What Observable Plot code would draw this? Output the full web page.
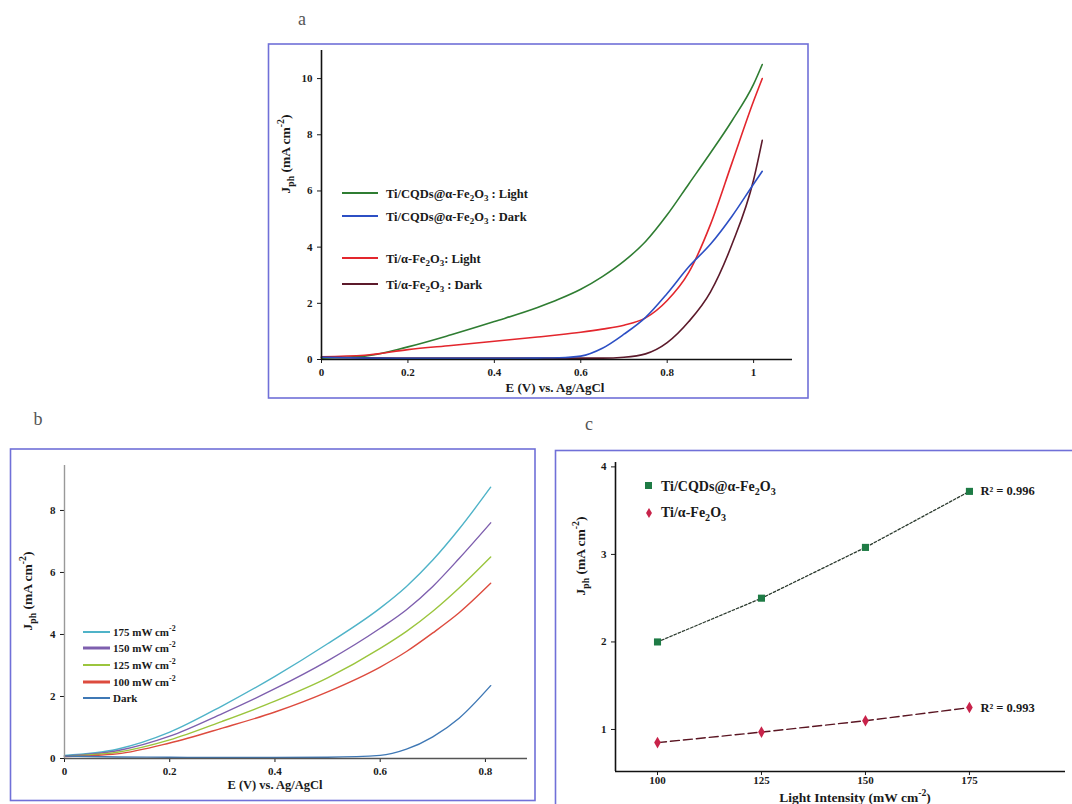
<!DOCTYPE html>
<html><head><meta charset="utf-8">
<script src="https://cdn.jsdelivr.net/npm/d3@7"></script>
<script src="https://cdn.jsdelivr.net/npm/@observablehq/plot@0.6"></script>
<style>
html,body{margin:0;padding:0;background:#fff;width:1072px;height:804px;overflow:hidden;}
#root{position:relative;width:1072px;height:804px;}
#root svg{position:absolute;}
</style></head><body><div id="root"></div>
<script>
// ---------- Panel a data ----------
const eA = [0, 0.1, 0.2, 0.3, 0.4, 0.5, 0.55, 0.6, 0.65, 0.7, 0.75, 0.8, 0.85, 0.9, 0.95, 1.0, 1.02];
const cqdLight = [0.05, 0.12, 0.45, 0.88, 1.35, 1.85, 2.15, 2.5, 2.95, 3.5, 4.2, 5.15, 6.25, 7.35, 8.5, 9.8, 10.5];
const cqdDark  = [0.08, 0.05, 0.04, 0.04, 0.04, 0.05, 0.06, 0.12, 0.4, 0.9, 1.5, 2.35, 3.3, 4.1, 5.1, 6.25, 6.7];
const feLight  = [0.1, 0.15, 0.35, 0.5, 0.65, 0.8, 0.88, 0.97, 1.08, 1.22, 1.48, 2.1, 3.1, 4.8, 7.0, 9.2, 10.0];
const feDark   = [0.08, 0.06, 0.05, 0.05, 0.05, 0.05, 0.05, 0.05, 0.05, 0.08, 0.2, 0.6, 1.35, 2.4, 4.1, 6.4, 7.8];
const seriesA = ["Ti/CQDs@α-Fe_{2}O_{3} : Light", "Ti/CQDs@α-Fe_{2}O_{3} : Dark", "Ti/α-Fe_{2}O_{3}: Light", "Ti/α-Fe_{2}O_{3} : Dark"];
const colorsA = ["#2f7d32", "#2c4fc4", "#e3262d", "#5c1a2b"];
const xTicksA = [0, 0.2, 0.4, 0.6, 0.8, 1];
const yTicksA = [0, 2, 4, 6, 8, 10];
const xDomA = [0, 1.09], yDomA = [0, 11];

// ---------- Panel b data ----------
const eB = [0, 0.1, 0.2, 0.3, 0.4, 0.5, 0.6, 0.65, 0.7, 0.75, 0.81];
const i175 = [0.1, 0.3, 0.85, 1.7, 2.65, 3.7, 4.85, 5.55, 6.4, 7.4, 8.75];
const i150 = [0.08, 0.25, 0.72, 1.45, 2.25, 3.15, 4.2, 4.8, 5.55, 6.45, 7.6];
const i125 = [0.07, 0.2, 0.6, 1.2, 1.85, 2.6, 3.55, 4.1, 4.75, 5.5, 6.5];
const i100 = [0.06, 0.15, 0.5, 0.98, 1.5, 2.15, 2.95, 3.45, 4.05, 4.7, 5.65];
const darkB = [0.08, 0.05, 0.04, 0.03, 0.03, 0.04, 0.1, 0.3, 0.7, 1.3, 2.35];
const seriesB = ["175 mW cm^{-2}", "150 mW cm^{-2}", "125 mW cm^{-2}", "100 mW cm^{-2}", "Dark"];
const colorsB = ["#4fb3c8", "#7e5fae", "#9bc53d", "#dd4b3e", "#3f78b5"];
const xTicksB = [0, 0.2, 0.4, 0.6, 0.8];
const yTicksB = [0, 2, 4, 6, 8];
const xDomB = [0, 0.88], yDomB = [0, 9.45];

// ---------- Panel c data ----------
const intensity = [100, 125, 150, 175];
const jCqd = [2.0, 2.5, 3.08, 3.72];
const jFe  = [0.85, 0.97, 1.1, 1.25];
const seriesC = ["Ti/CQDs@α-Fe_{2}O_{3}", "Ti/α-Fe_{2}O_{3}"];
const r2C = ["R² = 0.996", "R² = 0.993"];
const xTicksC = [100, 125, 150, 175];
const yTicksC = [1, 2, 3, 4];
const xDomC = [89.9, 198.1], yDomC = [0.52, 4.05];

const FONT = '"Liberation Serif", "Times New Roman", serif';
const root = document.getElementById("root");
const fmt = d3.format("~g");

function rich(text, str, size) {
  const re = /([_^])\{([^}]*)\}/g;
  let last = 0, m, off = 0;
  const add = (txt, dy, fs) => {
    const t = text.append("tspan").text(txt);
    if (dy) t.attr("dy", dy);
    if (fs) t.attr("font-size", fs);
  };
  while ((m = re.exec(str))) {
    if (m.index > last) { add(str.slice(last, m.index), off ? -off : null); off = 0; }
    const shift = m[1] === "_" ? size * 0.3 : -size * 0.42;
    add(m[2], shift - off, size * 0.72);
    off = shift;
    last = re.lastIndex;
  }
  if (last < str.length) add(str.slice(last), off ? -off : null);
  return text;
}
function label(svg, x, y, str, size, opts = {}) {
  const t = svg.append("text").attr("x", x).attr("y", y)
    .attr("font-family", FONT).attr("font-size", size).attr("font-weight", opts.weight || "bold")
    .attr("fill", opts.fill || "#1a1a1a").attr("text-anchor", opts.anchor || "start");
  if (opts.rotate) t.attr("transform", `rotate(-90 ${x} ${y})`);
  return rich(t, str, size);
}
function mount(el, left, top) {
  el.style.left = left + "px"; el.style.top = top + "px";
  root.appendChild(el);
  return d3.select(el);
}
const baseStyle = {fontFamily: FONT, fontSize: "11px", fontWeight: "bold", color: "#1a1a1a", background: "transparent", overflow: "visible"};

// ---------- Panel a ----------
const arrA = [cqdLight, feLight, feDark, cqdDark];
const nameIdxA = [0, 2, 3, 1];
const dataA = arrA.flatMap((arr, k) => arr.map((v, i) => ({E: eA[i], J: v, s: seriesA[nameIdxA[k]]})));
const plotA = Plot.plot({
  width: 540, height: 354,
  marginLeft: 53, marginRight: 16, marginTop: 6, marginBottom: 39,
  style: baseStyle,
  x: {domain: xDomA, ticks: xTicksA, tickFormat: fmt, tickSize: 4, label: null},
  y: {domain: yDomA, ticks: yTicksA, tickFormat: fmt, tickSize: 4, label: null},
  color: {domain: seriesA, range: colorsA},
  marks: [
    Plot.line(dataA, {x: "E", y: "J", z: "s", stroke: "s", curve: "monotone-x", strokeWidth: 1.6}),
    Plot.ruleY([yDomA[0]], {stroke: "#111", strokeWidth: 1.6}),
    Plot.ruleX([xDomA[0]], {stroke: "#111", strokeWidth: 1.6})
  ]
});
const sa = mount(plotA, 268, 44);
label(sa, 287, 348, "E (V) vs. Ag/AgCl", 13, {anchor: "middle"});
label(sa, 22, 110, "J_{ph} (mA cm^{-2})", 13.5, {anchor: "middle", rotate: true});
const legYA = [149, 172, 214, 240];
seriesA.forEach((s, i) => {
  sa.append("line").attr("x1", 74).attr("x2", 110).attr("y1", legYA[i]).attr("y2", legYA[i])
    .attr("stroke", colorsA[i]).attr("stroke-width", 2);
  label(sa, 118, legYA[i] + 4.5, s, 12.5);
});

// ---------- Panel b ----------
const arrB = [i175, i150, i125, i100, darkB];
const dataB = arrB.flatMap((arr, k) => arr.map((v, i) => ({E: eB[i], J: v, s: seriesB[k]})));
const plotB = Plot.plot({
  width: 525, height: 352,
  marginLeft: 54, marginRight: 8, marginTop: 16, marginBottom: 43,
  style: baseStyle,
  x: {domain: xDomB, ticks: xTicksB, tickFormat: fmt, tickSize: 4, label: null},
  y: {domain: yDomB, ticks: yTicksB, tickFormat: fmt, tickSize: 4, label: null},
  color: {domain: seriesB, range: colorsB},
  marks: [
    Plot.line(dataB, {x: "E", y: "J", z: "s", stroke: "s", curve: "monotone-x", strokeWidth: 1.4}),
    Plot.ruleY([yDomB[0]], {stroke: "#555", strokeWidth: 1.6}),
    Plot.ruleX([xDomB[0]], {stroke: "#999", strokeWidth: 1.4})
  ]
});
const sb = mount(plotB, 10, 449);
label(sb, 265, 340, "E (V) vs. Ag/AgCl", 12.5, {anchor: "middle"});
label(sb, 22, 142, "J_{ph} (mA cm^{-2})", 13.5, {anchor: "middle", rotate: true});
const legYB = [183, 199, 216, 233, 249];
seriesB.forEach((s, i) => {
  sb.append("line").attr("x1", 73).attr("x2", 100).attr("y1", legYB[i]).attr("y2", legYB[i])
    .attr("stroke", colorsB[i]).attr("stroke-width", i === 1 || i === 3 ? 3 : 2);
  label(sb, 103, legYB[i] + 4, s, 11);
});

// ---------- Panel c ----------
const dataC = [
  ...intensity.map((x, i) => ({I: x, J: jCqd[i], s: seriesC[0]})),
  ...intensity.map((x, i) => ({I: x, J: jFe[i], s: seriesC[1]}))
];
const lastC = [
  {I: intensity[3], J: jCqd[3], t: r2C[0]},
  {I: intensity[3], J: jFe[3], t: r2C[1]}
];
const plotC = Plot.plot({
  width: 520, height: 354,
  marginLeft: 60, marginRight: 10, marginTop: 12, marginBottom: 33,
  style: baseStyle,
  x: {domain: xDomC, ticks: xTicksC, tickFormat: fmt, tickSize: 4, tickPadding: 1, label: null},
  y: {domain: yDomC, ticks: yTicksC, tickFormat: fmt, tickSize: 4, label: null},
  marks: [
    Plot.line(dataC.filter(d => d.s === seriesC[0]), {x: "I", y: "J", stroke: "#2b3a2e", strokeWidth: 1.3, strokeDasharray: "2.5,2"}),
    Plot.line(dataC.filter(d => d.s === seriesC[1]), {x: "I", y: "J", stroke: "#5a1522", strokeWidth: 1.4, strokeDasharray: "9,4"}),
    Plot.dot(dataC.filter(d => d.s === seriesC[0]), {x: "I", y: "J", symbol: "square", r: 4, fill: "#1e7b45"}),
    Plot.dot(dataC.filter(d => d.s === seriesC[1]), {x: "I", y: "J", symbol: "diamond", r: 3.5, fill: "#c8234a"}),
    Plot.text(lastC, {x: "I", y: "J", text: "t", dx: 11, textAnchor: "start", fontSize: 12.5, fill: "#1a1a1a"}),
    Plot.ruleY([yDomC[0]], {stroke: "#111", strokeWidth: 1.6}),
    Plot.ruleX([xDomC[0]], {stroke: "#111", strokeWidth: 1.6})
  ]
});
const sc = mount(plotC, 555, 450);
label(sc, 300, 352, "Light Intensity (mW cm^{-2})", 13.5, {anchor: "middle"});
label(sc, 30, 106, "J_{ph} (mA cm^{-2})", 13.5, {anchor: "middle", rotate: true});
sc.append("rect").attr("x", 90).attr("y", 32).attr("width", 7).attr("height", 7).attr("fill", "#1e7b45");
label(sc, 106, 41, seriesC[0], 14);
sc.append("path").attr("d", d3.symbol(d3.symbolDiamond, 30)()).attr("transform", "translate(94,63)").attr("fill", "#c8234a");
label(sc, 106, 67, seriesC[1], 14);

// ---------- frames and panel letters ----------
const over = document.createElementNS("http://www.w3.org/2000/svg", "svg");
over.setAttribute("width", 1072); over.setAttribute("height", 804);
const so = mount(over, 0, 0);
so.style("pointer-events", "none");
const frames = [[268.5, 44, 539.5, 354], [10.5, 449, 524.5, 351.5], [555.5, 450.5, 530, 360]];
frames.forEach(([x, y, w, h]) => so.append("rect").attr("x", x).attr("y", y).attr("width", w).attr("height", h)
  .attr("fill", "none").attr("stroke", "#7070d8").attr("stroke-width", 1.6));
[["a", 302, 25], ["b", 38, 425], ["c", 589, 430]].forEach(([t, x, y]) =>
  so.append("text").attr("x", x).attr("y", y).attr("font-family", FONT).attr("font-size", 18)
    .attr("fill", "#555").attr("text-anchor", "middle").text(t));
</script>
</body></html>
